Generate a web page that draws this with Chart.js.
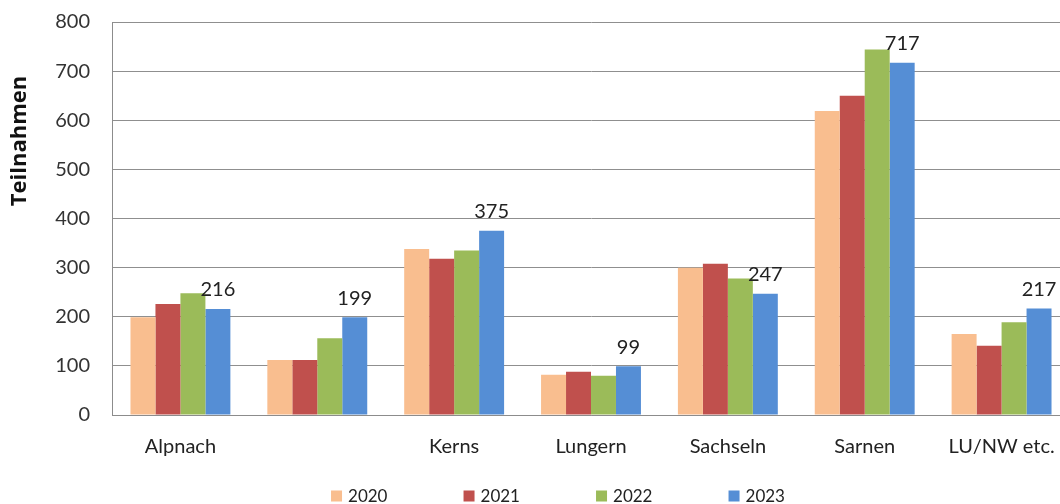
<!DOCTYPE html>
<html>
<head>
<meta charset="utf-8">
<script src="https://cdn.jsdelivr.net/npm/chart.js@4/dist/chart.umd.min.js"></script>
<style>
  html, body { margin: 0; padding: 0; background: #fff; overflow: hidden; }
  #wrap { width: 1116px; height: 504px; }
</style>
</head>
<body>
<div id="wrap"><canvas id="chart"></canvas></div>
<script>
const categories = ['Alpnach', '', 'Kerns', 'Lungern', 'Sachseln', 'Sarnen', 'LU/NW etc.'];
const years = ['2020', '2021', '2022', '2023'];
const values2020 = [199, 112, 338, 82, 300, 619, 165];
const values2021 = [226, 112, 318, 88, 308, 650, 141];
const values2022 = [248, 156, 335, 80, 278, 744, 189];
const values2023 = [216, 199, 375, 99, 247, 717, 217];
const colors = ['#F9BE8F', '#C0504D', '#9BBB59', '#558ED5'];
const yTicks = [0, 100, 200, 300, 400, 500, 600, 700, 800];
const yTitle = 'Teilnahmen';

const FONT = 'Lato, "Noto Sans", sans-serif';

// number above the 2023 bars
const topLabels = {
    id: 'topLabels',
    afterDatasetsDraw(chart) {
        const ctx = chart.ctx;
        const meta = chart.getDatasetMeta(3);
        ctx.save();
        ctx.font = '20px ' + FONT;
        ctx.fillStyle = '#222';
        ctx.textAlign = 'center';
        ctx.textBaseline = 'middle';
        meta.data.forEach((bar, i) => {
            ctx.fillText(values2023[i], bar.x, bar.y - 19);
        });
        ctx.restore();
    }
};

// axis title sits above the middle of the axis, so it is drawn here
const axisTitle = {
    id: 'axisTitle',
    afterDraw(chart) {
        const ctx = chart.ctx;
        ctx.save();
        ctx.translate(20, 141);
        ctx.rotate(-Math.PI / 2);
        ctx.font = 'bold 22px "Open Sans", ' + FONT;
        ctx.fillStyle = '#111';
        ctx.textAlign = 'center';
        ctx.textBaseline = 'middle';
        ctx.fillText(yTitle, 0, 0);
        ctx.restore();
    }
};

// legend row at the bottom, wide gaps between the items
const bottomLegend = {
    id: 'bottomLegend',
    afterDraw(chart) {
        const ctx = chart.ctx;
        const step = 132.5, box = 11, gap = 6, y = 496;
        ctx.save();
        ctx.font = '17px ' + FONT;
        ctx.textBaseline = 'middle';
        ctx.textAlign = 'left';
        const lastW = box + gap + ctx.measureText(years[3]).width;
        let x = chart.width / 2 - (3 * step + lastW) / 2;
        chart.data.datasets.forEach(ds => {
            ctx.fillStyle = ds.backgroundColor;
            ctx.fillRect(x, y - box / 2, box, box);
            ctx.fillStyle = '#222';
            ctx.fillText(ds.label, x + box + gap, y + 1);
            x += step;
        });
        ctx.restore();
    }
};

new Chart(document.getElementById('chart'), {
    type: 'bar',
    data: {
        labels: categories,
        datasets: [values2020, values2021, values2022, values2023].map((v, i) => ({
            label: years[i],
            data: v,
            backgroundColor: colors[i],
            borderWidth: 0,
            barPercentage: 1,
            categoryPercentage: 0.73
        }))
    },
    options: {
        responsive: true,
        maintainAspectRatio: false,
        animation: false,
        layout: { padding: { top: 0, right: 46, left: 0, bottom: 0 } },
        plugins: {
            legend: { display: false },
            tooltip: { enabled: false }
        },
        scales: {
            x: {
                afterFit(scale) { scale.height = 89; },
                grid: { display: false, drawTicks: false },
                border: { color: '#8c8c8c', width: 1 },
                ticks: { color: '#222', padding: 20, font: { size: 20, family: FONT } }
            },
            y: {
                min: 0,
                max: 800,
                afterFit(scale) {
                    scale.width = 112;
                    scale.paddingTop = 22;
                    scale.paddingBottom = 0;
                },
                afterBuildTicks(scale) { scale.ticks = yTicks.map(v => ({ value: v })); },
                grid: { color: '#8f8f8f', drawTicks: false },
                border: { color: '#8c8c8c', width: 1 },
                ticks: { color: '#333', padding: 22, font: { size: 20, family: FONT } }
            }
        }
    },
    plugins: [topLabels, axisTitle, bottomLegend]
});
</script>
</body>
</html>
